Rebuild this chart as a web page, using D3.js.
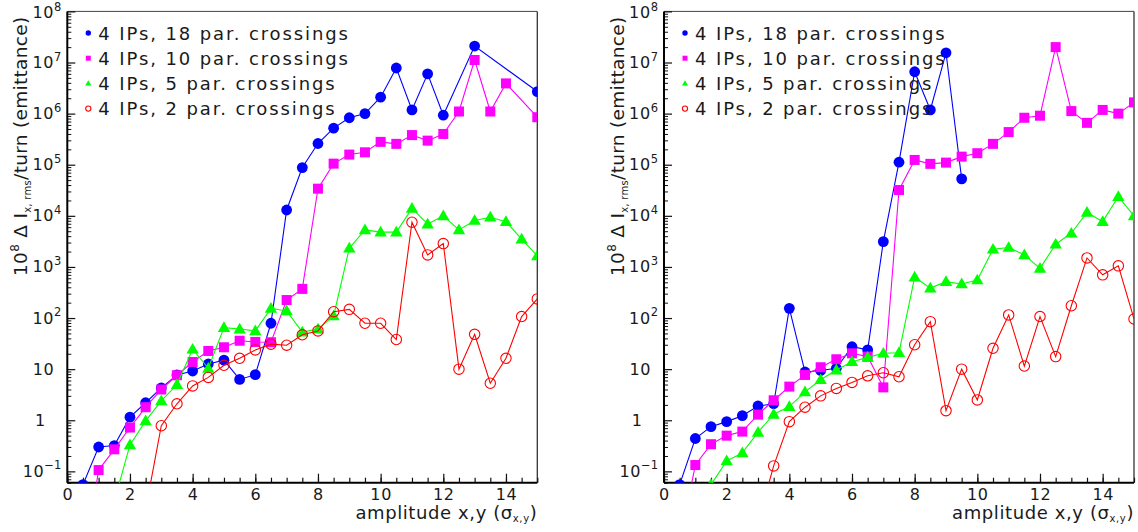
<!DOCTYPE html>
<html><head><meta charset="utf-8">
<script src="https://cdn.jsdelivr.net/npm/d3@7"></script>
<style>
body{margin:0;background:#fff}
svg{display:block}
text{font-family:"DejaVu Sans",sans-serif;fill:#1a1a1a}
</style>
</head><body>
<svg id="chart" width="1138" height="532"></svg>
<script>
// ---------- data ----------
const amplitude = [0.5,1,1.5,2,2.5,3,3.5,4,4.5,5,5.5,6,6.5,7,7.5,8,8.5,9,9.5,10,10.5,11,11.5,12,12.5,13,13.5,14,14.5,15];
const seriesNames = ["4 IPs, 18 par. crossings","4 IPs, 10 par. crossings","4 IPs, 5 par. crossings","4 IPs, 2 par. crossings"];

// left panel
const left18 = [0.055,0.30,0.32,1.15,2.2,4.3,7.7,9.2,12.6,15,6.3,7.8,79,13000,88000,2.6e5,5.2e5,8.3e5,1.0e6,2.1e6,7.8e6,1.18e6,6.0e6,9.3e5,null,2.1e7,null,null,null,2.7e6];
const left10 = [0.0013,0.106,0.27,0.72,1.8,4.0,7.6,13.8,22.7,26.8,36,34,33.6,225,372,34000,1.05e5,1.58e5,1.75e5,2.8e5,2.56e5,3.8e5,2.96e5,4.0e5,1.1e6,1.12e7,1.1e6,3.9e6,null,8.5e5];
const left5  = [null,null,0.026,0.33,0.97,2.4,5.0,24.5,10.4,65,61,56,155,138,53,61,110,2330,5300,4800,4800,14000,6900,10000,5300,8100,9400,7700,3500,1650];
const left2  = [null,null,null,null,0.018,0.78,2.1,4.7,6.9,11.9,16.3,23.8,30.8,29.4,47,56,133,148,79,79,38,7500,1720,2860,10,48,5.3,16.3,107,237];

// right panel
const right18 = [0.055,0.44,0.75,0.94,1.23,1.9,2.1,155,8.8,9.4,10.4,27.5,23.8,3130,1.12e5,6.6e6,1.18e6,1.55e7,53000,null,null,null,null,null,null,null,null,null,null,null];
const right10 = [0.004,0.133,0.34,0.50,0.60,1.29,2.46,4.55,7.7,10.9,15.6,20.4,17.6,4.4,32000,1.24e5,1.04e5,1.1e5,1.44e5,1.68e5,2.56e5,4.35e5,8.3e5,9.1e5,2.0e7,1.12e6,6.6e5,1.18e6,1.0e6,1.66e6];
const right5  = [null,null,0.055,0.16,0.23,0.58,1.31,1.85,3.6,6.2,9.6,14,17,20.5,21,630,385,515,465,555,2220,2400,1720,940,2780,4570,11700,7700,23800,10000];
const right2  = [null,null,null,null,null,0.01,0.128,0.94,1.8,3.0,4.2,5.5,7.4,8.5,7.1,30,85,1.54,10,2.5,25.6,115,11.5,107,17.6,174,1500,700,1050,96];

const xTicks = [0,2,4,6,8,10,12,14];
const yDecades = [0.1,1,10,100,1e3,1e4,1e5,1e6,1e7,1e8];
const xTitle = "amplitude x,y (σ";
const xTitleSub = "x,y";

// ---------- style ----------
const colors = ["#0000ff","#ff00ff","#00ff00","#ff0000"];
const markerKind = ["dot","square","triangle","ring"];

const svg = d3.select("#chart");
const plotTop = 11.4, plotBottom = 482.7, plotWidth = 470;

function drawMarker(g, kind, color, cx, cy, s) {
  if (kind === "dot") g.append("circle").attr("cx",cx).attr("cy",cy).attr("r",5.4*s).attr("fill",color);
  else if (kind === "ring") g.append("circle").attr("cx",cx).attr("cy",cy).attr("r",5.2*s).attr("fill","none").attr("stroke",color).attr("stroke-width",1.1);
  else if (kind === "square") g.append("rect").attr("x",cx-5*s).attr("y",cy-5*s).attr("width",10*s).attr("height",10*s).attr("fill",color);
  else g.append("path").attr("d",d3.symbol(d3.symbolTriangle, 66*s*s)()).attr("transform",`translate(${cx},${cy+0.8*s})`).attr("fill",color);
}

function panel(x0, id, series) {
  const x = d3.scaleLinear().domain([0,15]).range([x0, x0+plotWidth]);
  const y = d3.scaleLog().domain([0.06,1e8]).range([plotBottom, plotTop]);
  const g = svg.append("g");

  g.append("clipPath").attr("id","clip"+id).append("rect")
    .attr("x",x0).attr("y",plotTop).attr("width",plotWidth).attr("height",plotBottom-plotTop);

  // frame top/right
  g.append("line").attr("x1",x0).attr("x2",x0+plotWidth).attr("y1",plotTop).attr("y2",plotTop).attr("stroke","#444").attr("stroke-width",1);
  g.append("line").attr("x1",x0+plotWidth).attr("x2",x0+plotWidth).attr("y1",plotTop).attr("y2",plotBottom).attr("stroke","#333").attr("stroke-width",1.3);

  // x axis ticks
  const xMinor = d3.range(0,15.01,0.5);
  g.append("g").attr("transform",`translate(0,${plotBottom})`)
    .call(d3.axisBottom(x).tickValues(xMinor).tickSize(-5).tickFormat(""))
    .call(a=>a.select(".domain").remove())
    .call(a=>a.selectAll("line").attr("stroke","#111").attr("stroke-width",1.2));
  g.append("g").attr("transform",`translate(0,${plotBottom})`)
    .call(d3.axisBottom(x).tickValues(xTicks).tickSize(-9).tickPadding(6).tickFormat(d3.format("d")))
    .call(a=>a.select(".domain").remove())
    .call(a=>a.selectAll("line").attr("stroke","#111").attr("stroke-width",1.2))
    .call(a=>a.selectAll("text").attr("font-size",16).attr("font-family","DejaVu Sans").attr("fill","#1a1a1a").attr("letter-spacing",0.6));

  // y axis ticks
  const yMinor = [];
  for (let e=-2;e<8;e++) for (let m=2;m<=9;m++){ const v=m*Math.pow(10,e); if (v>=0.06 && v<=1e8) yMinor.push(v); }
  g.append("g").attr("transform",`translate(${x0},0)`)
    .call(d3.axisLeft(y).tickValues(yMinor).tickSize(-4).tickFormat(""))
    .call(a=>a.select(".domain").remove())
    .call(a=>a.selectAll("line").attr("stroke","#111").attr("stroke-width",1));
  g.append("g").attr("transform",`translate(${x0},0)`)
    .call(d3.axisLeft(y).tickValues(yDecades).tickSize(-8).tickFormat(""))
    .call(a=>a.select(".domain").remove())
    .call(a=>a.selectAll("line").attr("stroke","#111").attr("stroke-width",1.2));

  // y labels
  yDecades.forEach(v => {
    const e = Math.round(Math.log10(v));
    const yy = y(v) + 5.5 + (e === 8 ? 1.5 : 0);
    if (e === 0) {
      g.append("text").attr("x",x0-22).attr("y",yy).attr("text-anchor","end").attr("font-size",16).text("1");
    } else if (e === 1) {
      g.append("text").attr("x",x0-13).attr("y",yy).attr("text-anchor","end").attr("font-size",16).attr("letter-spacing",0.6).text("10");
    } else {
      const t = g.append("text").attr("x",x0-6).attr("y",yy).attr("text-anchor","end").attr("font-size",16);
      t.append("tspan").attr("letter-spacing",0.6).text("10");
      t.append("tspan").attr("font-size",11.5).attr("dy",-7.5).text(e<0 ? "\u2212"+(-e) : String(e));
    }
  });

  // axes lines (left & bottom)
  g.append("line").attr("x1",x0).attr("x2",x0).attr("y1",plotTop).attr("y2",plotBottom).attr("stroke","#000").attr("stroke-width",2);
  g.append("line").attr("x1",x0).attr("x2",x0+plotWidth).attr("y1",plotBottom).attr("y2",plotBottom).attr("stroke","#000").attr("stroke-width",2);

  // data
  const plot = g.append("g").attr("clip-path",`url(#clip${id})`);
  series.forEach((vals,i) => {
    const pts = amplitude.map((a,k)=>[a,vals[k]]).filter(p=>p[1]!==null);
    plot.append("path").datum(pts)
      .attr("d", d3.line().x(p=>x(p[0])).y(p=>y(p[1])))
      .attr("fill","none").attr("stroke",colors[i]).attr("stroke-width",1.1);
    pts.forEach(p => drawMarker(plot, markerKind[i], colors[i], x(p[0]), y(p[1]), 1));
  });

  // legend
  const lx = x0 + 21, tx = x0 + 31;
  seriesNames.forEach((name,i) => {
    const ly = 33 + i*25.2;
    drawMarker(g, markerKind[i], colors[i], lx, ly, 0.5);
    g.append("text").attr("x",tx).attr("y",ly+6.5).attr("font-size",18).attr("letter-spacing",1.9).text(name);
  });

  // x title
  const xt = g.append("text").attr("x",x0+plotWidth).attr("y",519).attr("text-anchor","end").attr("font-size",18).attr("letter-spacing",0.6);
  xt.append("tspan").text(xTitle);
  xt.append("tspan").attr("font-size",10).attr("dy",3).text(xTitleSub);
  xt.append("tspan").attr("dy",-3).text(")");

  // y title
  const yt = g.append("text").attr("transform",`translate(${x0-40},276) rotate(-90)`).attr("font-size",18.5).attr("letter-spacing",0.3);
  yt.append("tspan").text("10");
  yt.append("tspan").attr("font-size",12).attr("dy",-8).text("8");
  yt.append("tspan").attr("dy",8).text(" \u0394 I");
  yt.append("tspan").attr("font-size",10).attr("dy",4).text("x, rms");
  yt.append("tspan").attr("dy",-4).text("/turn (emittance)");
}

panel(67.3, "L", [left18,left10,left5,left2]);
panel(664, "R", [right18,right10,right5,right2]);
</script>
</body></html>
